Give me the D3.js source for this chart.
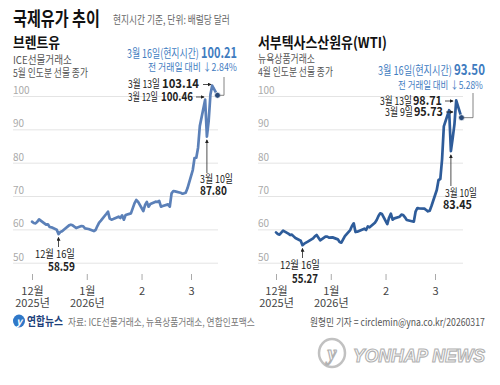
<!DOCTYPE html>
<html>
<head>
<meta charset="utf-8">
<script src="https://cdn.jsdelivr.net/npm/d3@7"></script>
<style>
  html, body { margin: 0; padding: 0; background: #fff; }
  svg { display: block; font-family: "Noto Sans CJK KR", "Noto Sans", sans-serif; }
</style>
</head>
<body>
<svg id="chart" width="500" height="385"></svg>
<script>
// Brent (ICE, May delivery) closing prices
const brentDates = [
  "2025-12-01","2025-12-02","2025-12-03","2025-12-04","2025-12-05","2025-12-08","2025-12-09","2025-12-10","2025-12-11","2025-12-12",
  "2025-12-15","2025-12-16","2025-12-17","2025-12-18","2025-12-19","2025-12-22","2025-12-23","2025-12-24","2025-12-26","2025-12-29",
  "2025-12-30","2025-12-31","2026-01-02","2026-01-05","2026-01-06","2026-01-07","2026-01-08","2026-01-09","2026-01-12","2026-01-13",
  "2026-01-14","2026-01-15","2026-01-16","2026-01-19","2026-01-20","2026-01-21","2026-01-22","2026-01-23","2026-01-26","2026-01-27",
  "2026-01-28","2026-01-29","2026-01-30","2026-02-02","2026-02-03","2026-02-04","2026-02-05","2026-02-06","2026-02-09","2026-02-10",
  "2026-02-11","2026-02-12","2026-02-13","2026-02-16","2026-02-17","2026-02-18","2026-02-19","2026-02-20","2026-02-23","2026-02-24",
  "2026-02-25","2026-02-26","2026-02-27","2026-03-02","2026-03-03","2026-03-04","2026-03-05","2026-03-06","2026-03-09","2026-03-10",
  "2026-03-11","2026-03-12","2026-03-13","2026-03-16"
];
const brentPrices = [
  62.3, 61.9, 61.8, 62.3, 63.0, 61.8, 61.4, 61.5, 60.7, 60.6,
  59.9, 58.59, 59.2, 59.4, 59.9, 61.2, 61.4, 61.2, 60.4, 61.0,
  60.9, 60.3, 60.1, 59.5, 59.8, 61.0, 62.0, 62.6, 64.6, 65.3,
  63.2, 62.9, 63.1, 63.8, 63.4, 64.2, 62.9, 64.3, 64.8, 66.3,
  67.8, 68.8, 68.3, 65.5, 67.3, 68.2, 66.8, 67.6, 68.3, 68.2,
  68.5, 66.8, 67.0, 67.5, 66.8, 70.8, 71.5, 71.4, 71.0, 70.7,
  70.8, 71.0, 72.3, 77.8, 81.4, 81.5, 84.5, 91.0, 98.9, 87.80,
  92.5, 100.46, 103.14, 100.21
];

// WTI (NYMEX, April delivery) closing prices
const wtiDates = [
  "2025-12-01","2025-12-02","2025-12-03","2025-12-04","2025-12-05","2025-12-08","2025-12-09","2025-12-10","2025-12-11","2025-12-12",
  "2025-12-15","2025-12-16","2025-12-17","2025-12-18","2025-12-19","2025-12-22","2025-12-23","2025-12-24","2025-12-26","2025-12-29",
  "2025-12-30","2025-12-31","2026-01-02","2026-01-05","2026-01-06","2026-01-07","2026-01-08","2026-01-09","2026-01-12","2026-01-13",
  "2026-01-14","2026-01-15","2026-01-16","2026-01-20","2026-01-21","2026-01-22","2026-01-23","2026-01-26","2026-01-27","2026-01-28",
  "2026-01-29","2026-01-30","2026-02-02","2026-02-03","2026-02-04","2026-02-05","2026-02-06","2026-02-09","2026-02-10","2026-02-11",
  "2026-02-12","2026-02-13","2026-02-17","2026-02-18","2026-02-19","2026-02-20","2026-02-23","2026-02-24","2026-02-25","2026-02-26",
  "2026-02-27","2026-03-02","2026-03-03","2026-03-04","2026-03-05","2026-03-06","2026-03-09","2026-03-10","2026-03-11","2026-03-12",
  "2026-03-13","2026-03-16"
];
const wtiPrices = [
  59.1, 58.6, 58.4, 59.0, 59.6, 58.7, 58.3, 58.4, 57.9, 57.4,
  56.6, 55.27, 55.7, 56.0, 56.3, 57.3, 57.9, 58.3, 56.7, 57.8,
  57.8, 57.5, 57.6, 57.0, 56.2, 56.0, 57.0, 58.0, 59.8, 61.0,
  61.8, 59.2, 59.3, 60.2, 59.8, 60.9, 60.6, 62.0, 62.8, 64.0,
  64.8, 64.6, 61.6, 63.5, 64.7, 62.9, 63.3, 63.8, 64.4, 64.3,
  63.6, 62.8, 62.3, 65.3, 66.4, 66.3, 66.2, 65.8, 65.4, 65.6,
  67.0, 71.8, 74.8, 75.1, 81.0, 90.9, 95.73, 83.45, 87.3, 91.5,
  98.71, 93.50
];

const yTicks = [50, 60, 70, 80, 90, 100];
const monthTicks = ["2025-12-01", "2026-01-01", "2026-02-01", "2026-03-01"];
const monthLabels = ["12월", "1월", "2", "3"];
const yearLabels = ["2025년", "2026년", "", ""];

const parse = d3.timeParse("%Y-%m-%d");
const svg = d3.select("#chart");
const BLUE = "#3f7cbf";

const defs = svg.append("defs");
defs.append("marker").attr("id", "arr")
  .attr("viewBox", "0 0 6 6").attr("refX", 5).attr("refY", 3)
  .attr("markerWidth", 5).attr("markerHeight", 5).attr("orient", "auto")
  .append("path").attr("d", "M0,0L6,3L0,6Z").attr("fill", "#222");

// text helper; w squeezes the text horizontally to the narrow original font
function txt(x, y, s, o = {}) {
  const g = svg.append("g").attr("transform", `translate(${x},${y})`);
  const t = g.append("text").text(s)
    .attr("font-size", o.size || 11)
    .attr("font-weight", o.bold ? 700 : 400)
    .attr("fill", o.fill || "#222")
    .attr("text-anchor", o.anchor || "start");
  if (o.w) {
    const k = Math.min(1, o.w / t.node().getComputedTextLength());
    g.attr("transform", `translate(${x},${y}) scale(${k},1)`);
  }
  return t;
}
function arrow(x1, y1, x2, y2) {
  svg.append("line").attr("x1", x1).attr("y1", y1).attr("x2", x2).attr("y2", y2)
    .attr("stroke", "#222").attr("stroke-width", 0.8).attr("marker-end", "url(#arr)");
}

const y = d3.scaleLinear().domain([50, 100]).range([262.7, 96]);

function panel(x0, gridLeft, gridRight, dates, prices, color) {
  const x = d3.scaleTime().domain([parse("2025-12-01"), parse("2026-03-01")]).range([x0, x0 + 159]);

  // grid + y labels
  const gy = svg.append("g").attr("transform", `translate(${gridLeft},0)`)
    .call(d3.axisRight(y).tickValues(yTicks).tickSize(gridRight - gridLeft));
  gy.select(".domain").remove();
  gy.attr("font-family", null).attr("font-size", null);
  gy.selectAll(".tick line").attr("stroke", "#e4e4e4");
  gy.selectAll(".tick text").attr("x", 0).attr("dy", -2.5)
    .attr("text-anchor", "start").attr("fill", "#aaa").attr("font-size", 10);

  // x axis
  const gx = svg.append("g").attr("transform", "translate(0,274)")
    .call(d3.axisBottom(x).tickValues(monthTicks.map(parse)).tickSize(6).tickPadding(7));
  gx.select(".domain").remove();
  gx.attr("font-family", null).attr("font-size", null);
  gx.selectAll(".tick line").attr("stroke", "#aaa");
  gx.selectAll(".tick text").attr("dy", 0).attr("fill", "#444").attr("font-size", 11)
    .each(function (d, i) {
      const t = d3.select(this).text(null);
      t.append("tspan").attr("x", 0).attr("dy", "0.75em").text(monthLabels[i]);
      if (yearLabels[i]) t.append("tspan").attr("x", 0).attr("dy", "1.1em").text(yearLabels[i]);
    });

  const pts = dates.map((d, i) => ({ date: parse(d), v: prices[i] }));
  svg.append("path").datum(pts)
    .attr("fill", "none").attr("stroke", color).attr("stroke-width", 2.7)
    .attr("stroke-linejoin", "round").attr("stroke-linecap", "round")
    .attr("d", d3.line().x(d => x(d.date)).y(d => y(d.v)));

  const last = pts[pts.length - 1];
  svg.append("circle").attr("cx", x(last.date)).attr("cy", y(last.v)).attr("r", 3)
    .attr("fill", "#2a4a78").attr("stroke", "#fff").attr("stroke-width", 0.8);
  return { x, last };
}

// ---------- headings ----------
txt(13, 26, "국제유가 추이", { size: 19, bold: true, fill: "#111", w: 87 });
txt(113, 24, "현지시간 기준, 단위: 배럴당 달러", { size: 11, fill: "#666", w: 117 });

// ---------- Brent ----------
const L = panel(32, 13, 218, brentDates, brentPrices, "#5b80b8");
txt(13, 48, "브렌트유", { size: 15, bold: true, fill: "#111", w: 47 });
txt(13, 64, "ICE선물거래소", { size: 11, fill: "#555", w: 59 });
txt(13, 77, "5월 인도분 선물 종가", { size: 11, fill: "#555", w: 75 });
txt(127, 58, "3월 16일(현지시간)", { size: 12, fill: BLUE, w: 72 });
txt(201, 58, "100.21", { size: 14.5, bold: true, fill: BLUE, w: 36 });
txt(148, 71, "전 거래일 대비 ↓2.84%", { size: 10.5, fill: BLUE, w: 89 });
{
  const lx = L.x(L.last.date), ly = y(L.last.v);
  svg.append("path").attr("d", `M${lx + 2},${ly}H224V77`).attr("fill", "none")
    .attr("stroke", "#666").attr("stroke-width", 0.8);
}
txt(128, 88, "3월 13일", { size: 11, w: 32 });
txt(162, 88, "103.14", { size: 12.5, bold: true, w: 37 });
arrow(203, 84.5, 211, 84.5);
txt(128, 101, "3월 12일", { size: 11, w: 30 });
txt(161, 101, "100.46", { size: 12.5, bold: true, w: 32 });
arrow(196, 97, 204, 97);
arrow(L.x(parse("2026-03-10")), 173, L.x(parse("2026-03-10")), 140);
txt(200, 183, "3월 10일", { size: 11, w: 33 });
txt(200, 195, "87.80", { size: 12.5, bold: true, w: 27 });
arrow(L.x(parse("2025-12-16")), 247, L.x(parse("2025-12-16")), 237.5);
txt(35, 258, "12월 16일", { size: 11, w: 40 });
txt(48, 271, "58.59", { size: 12.5, bold: true, w: 27 });

// ---------- WTI ----------
const R = panel(276, 258, 463, wtiDates, wtiPrices, "#2e5c9a");
txt(258, 48, "서부텍사스산원유(WTI)", { size: 15, bold: true, fill: "#111", w: 129 });
txt(258, 63, "뉴욕상품거래소", { size: 11, fill: "#555", w: 57 });
txt(258, 76, "4월 인도분 선물 종가", { size: 11, fill: "#555", w: 75 });
txt(378, 75, "3월 16일(현지시간)", { size: 12, fill: BLUE, w: 74 });
txt(454, 75, "93.50", { size: 14.5, bold: true, fill: BLUE, w: 31 });
txt(398, 89, "전 거래일 대비 ↓5.28%", { size: 10.5, fill: BLUE, w: 85 });
{
  const lx = R.x(R.last.date), ly = y(R.last.v);
  svg.append("path").attr("d", `M${lx + 2},${ly}H473V93`).attr("fill", "none")
    .attr("stroke", "#666").attr("stroke-width", 0.8);
}
txt(380, 105, "3월 13일", { size: 11, w: 32 });
txt(413, 105, "98.71", { size: 12.5, bold: true, w: 29 });
arrow(445, 101, 453, 101);
txt(385, 116, "3월 9일", { size: 11, w: 28 });
txt(414, 116, "95.73", { size: 12.5, bold: true, w: 29 });
arrow(446, 112, 453, 112);
arrow(R.x(parse("2026-03-10")), 186, R.x(parse("2026-03-10")), 155);
txt(445, 197, "3월 10일", { size: 11, w: 32 });
txt(443, 209, "83.45", { size: 12.5, bold: true, w: 29 });
arrow(R.x(parse("2025-12-16")), 258, R.x(parse("2025-12-16")), 248.5);
txt(280, 269, "12월 16일", { size: 11, w: 40 });
txt(292, 283, "55.27", { size: 12.5, bold: true, w: 26 });

// ---------- footer ----------
svg.append("ellipse").attr("cx", 19).attr("cy", 321).attr("rx", 6).attr("ry", 6.5).attr("fill", "#2f78c8");
txt(19, 325, "y", { size: 10, bold: true, fill: "#fff", anchor: "middle" }).attr("font-style", "italic");
txt(27, 326, "연합뉴스", { size: 12, bold: true, fill: "#1d3f7a", w: 36 });
txt(68, 326, "자료: ICE선물거래소, 뉴욕상품거래소, 연합인포맥스", { size: 10.5, fill: "#777", w: 187 });
txt(310, 326, "원형민 기자 = circlemin@yna.co.kr/20260317", { size: 10.5, fill: "#555", w: 175 });

// watermark
const wm = svg.append("g").attr("opacity", 0.9);
wm.append("ellipse").attr("cx", 332).attr("cy", 353).attr("rx", 13).attr("ry", 14)
  .attr("fill", "#fff").attr("stroke", "#bbb").attr("stroke-width", 2.5);
wm.append("text").attr("x", 332).attr("y", 360).attr("text-anchor", "middle")
  .attr("font-family", "Liberation Serif").attr("font-style", "italic").attr("font-weight", 700)
  .attr("font-size", 20).attr("fill", "#fff").attr("stroke", "#aaa").attr("stroke-width", 1.2).text("y");
const wmt = wm.append("g").attr("transform", "translate(353,362)");
const wmText = wmt.append("text").text("YONHAP NEWS")
  .attr("font-family", "Liberation Sans").attr("font-weight", 700).attr("font-style", "italic")
  .attr("font-size", 19).attr("fill", "#fff").attr("stroke", "#aaa").attr("stroke-width", 1.2);
wmt.attr("transform", `translate(353,362) scale(${132 / wmText.node().getComputedTextLength()},1)`);
</script>
</body>
</html>
